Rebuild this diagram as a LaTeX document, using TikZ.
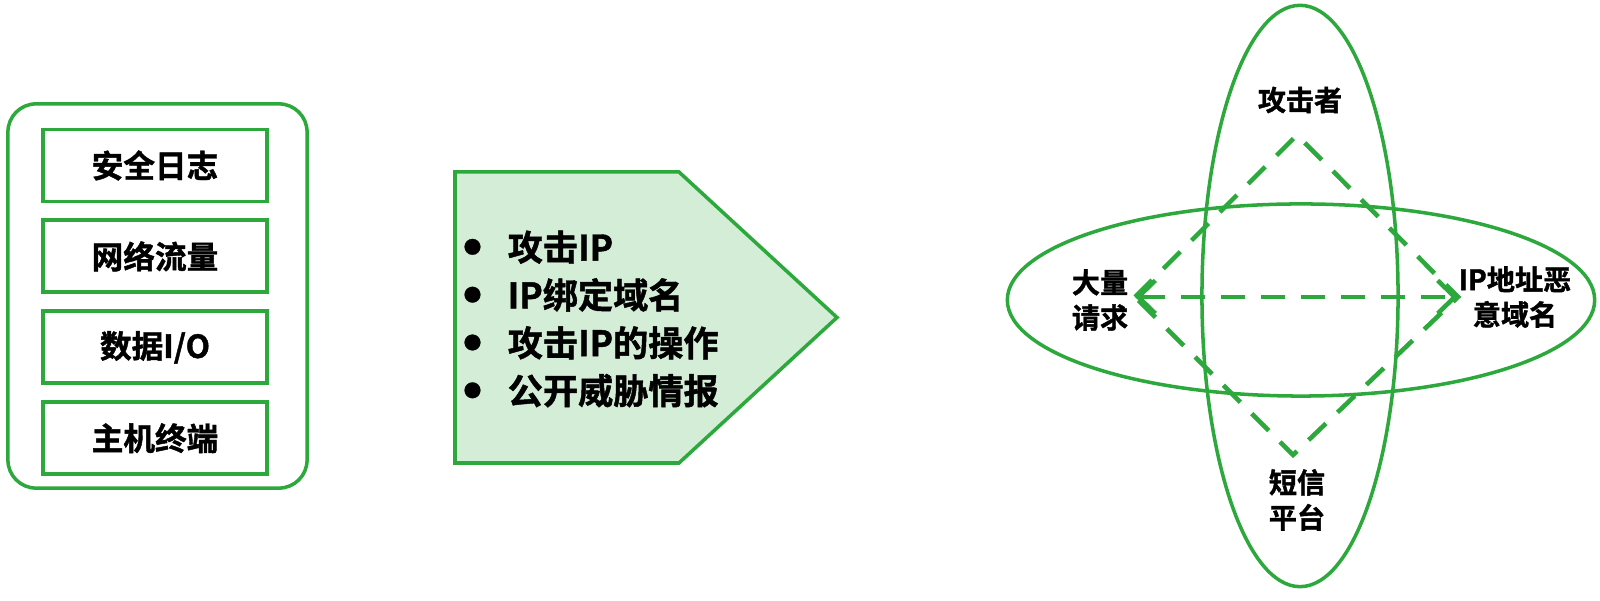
\documentclass[tikz,border=0pt]{standalone}
\usepackage{fontspec}
\setmainfont{Noto Sans CJK SC}[BoldFont={Noto Sans CJK SC Bold}, BoldFeatures={FakeBold=1.3}]
\usepackage{xcolor}
\usepackage{tikz}
\usetikzlibrary{
  positioning, arrows.meta, shapes.geometric
}
\definecolor{srcgreen}{HTML}{2DA83C}
\definecolor{srclightgreen}{HTML}{D3EDD6}
\newcommand{\iocitem}[1]{%
  \makebox[0.42cm][l]{\hspace{-0.02cm}\raisebox{2pt}{\fontsize{5}{5}\selectfont ●}}#1}

\begin{document}
\begin{tikzpicture}[
  x=0.01cm, y=-0.01cm,
  outer/.style={
    rectangle, rounded corners=8pt, draw=srcgreen, line width=1pt,
    minimum width=2.99cm, minimum height=3.84cm
  },
  srcbox/.style={
    rectangle, draw=srcgreen, line width=1.1pt,
    minimum width=2.24cm, minimum height=0.72cm,
    font=\bfseries\fontsize{9}{11}\selectfont, inner sep=0pt
  },
  ring/.style={ellipse, draw=srcgreen, line width=1pt, inner sep=0pt},
  tag/.style={font=\bfseries\fontsize{8}{10}\selectfont, align=center},
  link/.style={draw=srcgreen, line width=1.3pt, dash pattern=on 2.4mm off 1.6mm},
  tip/.style={{Straight Barb[length=1.7mm, width=3.3mm]}-{Straight Barb[length=1.7mm, width=3.3mm]}},
]
\useasboundingbox (0,0) rectangle (1600,601);

% Data sources (left)
\node[outer] (sources) at (157.5,296) {};
\node[srcbox] (seclog) at (155,165.5) {安全日志};
\node[srcbox, below=0.15cm of seclog] (netflow) {网络流量};
\node[srcbox, below=0.15cm of netflow] (dataio) {数据I/O};
\node[srcbox, below=0.15cm of dataio] (host) {主机终端};

% Indicators (middle)
\draw[draw=srcgreen, fill=srclightgreen, line width=1pt]
  (455,172) -- (679,172) -- (837,317.5) -- (679,463) -- (455,463) -- cycle;
\node[anchor=west, align=left, inner sep=0pt,
  font=\bfseries\fontsize{10}{13.6}\selectfont] (ioc) at (465,319) {
  \iocitem{攻击IP}\\
  \iocitem{IP绑定域名}\\
  \iocitem{攻击IP的操作}\\
  \iocitem{公开威胁情报}
};

% Correlation (right)
\node[ring, minimum width=1.96cm, minimum height=5.81cm] (vring) at (1300,296) {};
\node[ring, minimum width=5.87cm, minimum height=1.92cm] (hring) at (1301,300) {};

\node[tag] (attacker) at (1300,100) {攻击者};
\node[tag] (sms) at (1297,500) {短信\\平台};
\node[tag] (bulk) at (1100,300) {大量\\请求};
\node[tag] (domain) at (1515,297) {IP地址恶\\意域名};

\coordinate (top) at (1297,135);
\coordinate (right) at (1458,297);
\coordinate (bottom) at (1293,455);
\coordinate (left) at (1135,297);

\draw[link] (left) -- (top) -- (right) -- (bottom) -- cycle;
\draw[link, tip] (left) -- (right);

\end{tikzpicture}
\end{document}
